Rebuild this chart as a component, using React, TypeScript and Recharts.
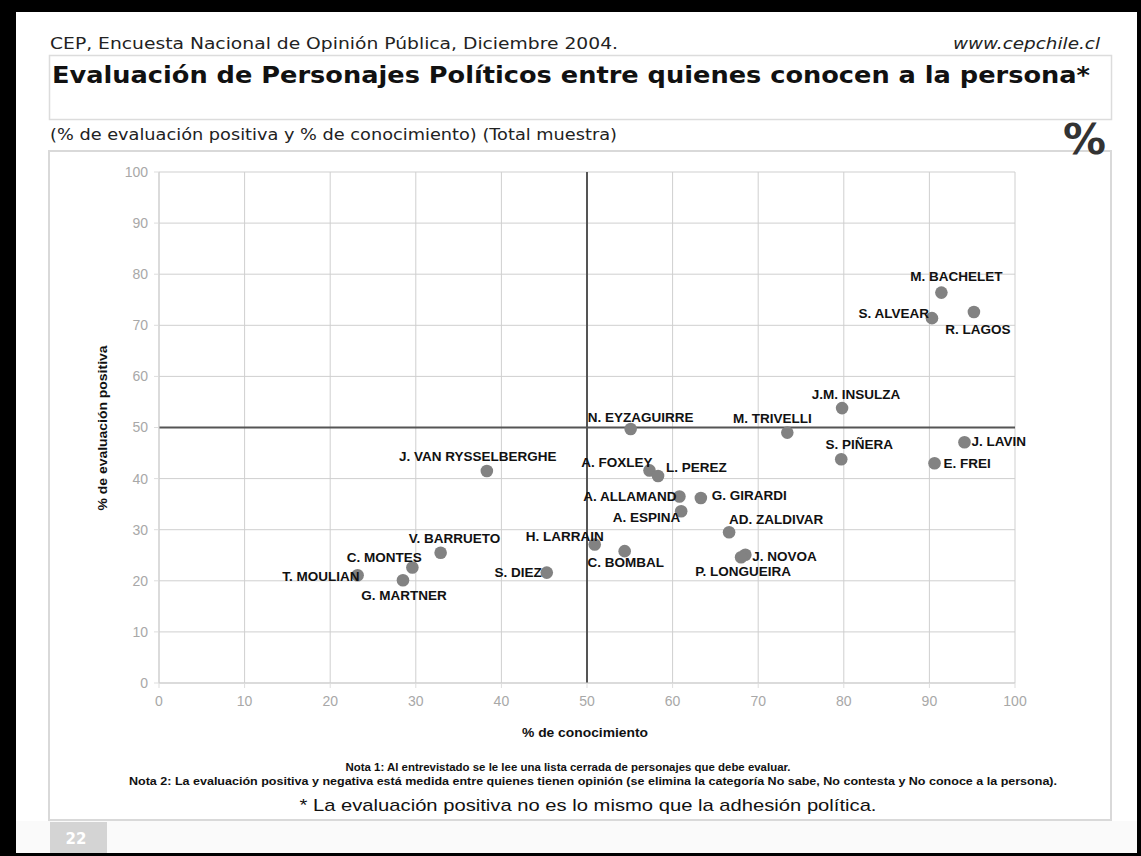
import {
  CartesianGrid,
  ReferenceLine,
  Scatter,
  ScatterChart,
  XAxis,
  YAxis,
} from "recharts";

// personajes evaluados
const names = [
  "M. BACHELET",
  "R. LAGOS",
  "S. ALVEAR",
  "J.M. INSULZA",
  "N. EYZAGUIRRE",
  "M. TRIVELLI",
  "J. LAVIN",
  "S. PIÑERA",
  "E. FREI",
  "J. VAN RYSSELBERGHE",
  "A. FOXLEY",
  "L. PEREZ",
  "A. ALLAMAND",
  "G. GIRARDI",
  "A. ESPINA",
  "AD. ZALDIVAR",
  "H. LARRAIN",
  "C. BOMBAL",
  "J. NOVOA",
  "P. LONGUEIRA",
  "V. BARRUETO",
  "C. MONTES",
  "T. MOULIAN",
  "G. MARTNER",
  "S. DIEZ",
];

// % de conocimiento
const conocimiento = [
  91.4, 95.2, 90.3, 79.8, 55.1, 73.4, 94.1, 79.7, 90.6, 38.3, 57.3, 58.3, 60.8,
  63.3, 61.0, 66.6, 50.9, 54.4, 68.5, 68.0, 32.9, 29.6, 23.2, 28.5, 45.3,
];

// % de evaluación positiva
const evaluacion = [
  76.4, 72.6, 71.4, 53.8, 49.7, 49.0, 47.1, 43.8, 43.0, 41.5, 41.6, 40.5, 36.5,
  36.2, 33.6, 29.5, 27.1, 25.8, 25.1, 24.6, 25.5, 22.6, 21.1, 20.1, 21.6,
];

const ticks = [0, 10, 20, 30, 40, 50, 60, 70, 80, 90, 100];

const data = names.map((name, i) => ({
  name,
  x: conocimiento[i],
  y: evaluacion[i],
}));

// label placement: [dx, baseline dy, anchor]
const labelPos: Record<string, [number, number, "start" | "middle" | "end"]> = {
  "M. BACHELET": [15, -12, "middle"],
  "R. LAGOS": [4, 22, "middle"],
  "S. ALVEAR": [-3, 0, "end"],
  "J.M. INSULZA": [14, -9, "middle"],
  "N. EYZAGUIRRE": [10, -7, "middle"],
  "M. TRIVELLI": [-15, -10, "middle"],
  "J. LAVIN": [7, 4, "start"],
  "S. PIÑERA": [18, -10, "middle"],
  "E. FREI": [9, 5, "start"],
  "J. VAN RYSSELBERGHE": [-9, -10, "middle"],
  "A. FOXLEY": [3, -3, "end"],
  "L. PEREZ": [8, -4, "start"],
  "A. ALLAMAND": [-3, 5, "end"],
  "G. GIRARDI": [11, 2, "start"],
  "A. ESPINA": [-1, 11, "end"],
  "AD. ZALDIVAR": [0, -8, "start"],
  "H. LARRAIN": [9, -4, "end"],
  "C. BOMBAL": [1, 16, "middle"],
  "J. NOVOA": [7, 6, "start"],
  "P. LONGUEIRA": [2, 19, "middle"],
  "V. BARRUETO": [14, -10, "middle"],
  "C. MONTES": [-28, -6, "middle"],
  "T. MOULIAN": [2, 6, "end"],
  "G. MARTNER": [1, 20, "middle"],
  "S. DIEZ": [-5, 4, "end"],
};

const dot = (props: any) => (
  <circle cx={props.cx} cy={props.cy} r={6.3} fill="#828282" />
);

const nameLabel = (props: any) => {
  const [dx, dy, anchor] = labelPos[props.payload.name] || [8, 4, "start"];
  return (
    <text
      x={props.cx + dx}
      y={props.cy + dy}
      textAnchor={anchor}
      fontFamily="'Liberation Sans', Arial, sans-serif"
      fontWeight="bold"
      fontSize={13.5}
      fill="#111"
    >
      {props.payload.name}
    </text>
  );
};

const dejavu = "'DejaVu Sans', sans-serif";
const sans = "'Liberation Sans', Arial, sans-serif";

export default function App() {
  return (
    <div
      style={{
        position: "absolute",
        left: 0,
        top: 0,
        width: 1141,
        height: 856,
        background: "#000",
      }}
    >
      <svg width={1141} height={856} style={{ position: "absolute", left: 0, top: 0 }}>
        <rect x={16} y={12} width={1121} height={841} fill="#fff" />
        <rect x={16} y={821} width={1121} height={32} fill="#fafafa" />

        {/* header */}
        <text x={50} y={49} fontFamily={dejavu} fontSize={16.5} fill="#222" textLength={568} lengthAdjust="spacingAndGlyphs">
          CEP, Encuesta Nacional de Opinión Pública, Diciembre 2004.
        </text>
        <text x={953} y={49} fontFamily={dejavu} fontSize={16.5} fontStyle="italic" fill="#222" textLength={147} lengthAdjust="spacingAndGlyphs">
          www.cepchile.cl
        </text>

        <rect x={49.5} y={55.5} width={1062} height={64} fill="#fff" stroke="#dcdcdc" strokeWidth={1.5} />
        <text x={52} y={83} fontFamily={dejavu} fontSize={23} fontWeight="bold" fill="#111" textLength={1038} lengthAdjust="spacingAndGlyphs">
          Evaluación de Personajes Políticos entre quienes conocen a la persona*
        </text>

        <text x={50} y={140} fontFamily={dejavu} fontSize={15} fill="#222" textLength={567} lengthAdjust="spacingAndGlyphs">
          (% de evaluación positiva y % de conocimiento) (Total muestra)
        </text>

        {/* panel */}
        <rect x={49} y={151} width={1062} height={669} fill="#fff" stroke="#d9d9d9" strokeWidth={2} />

        <text x={1106} y={154} fontFamily={dejavu} fontSize={42} fontWeight="bold" textAnchor="end" fill="#333" textLength={43} lengthAdjust="spacingAndGlyphs">
          %
        </text>

        {/* axis titles */}
        <text x={585} y={737} textAnchor="middle" fontFamily={sans} fontWeight="bold" fontSize={12.5} fill="#111" textLength={126} lengthAdjust="spacingAndGlyphs">
          % de conocimiento
        </text>
        <text
          x={0}
          y={0}
          transform="translate(107 428) rotate(-90)"
          textAnchor="middle"
          fontFamily={sans}
          fontWeight="bold"
          fontSize={12.5}
          fill="#111"
          textLength={165}
          lengthAdjust="spacingAndGlyphs"
        >
          % de evaluación positiva
        </text>

        {/* notas */}
        <text x={568} y={771} textAnchor="middle" fontFamily={sans} fontWeight="bold" fontSize={11} fill="#111" textLength={445} lengthAdjust="spacingAndGlyphs">
          Nota 1: Al entrevistado se le lee una lista cerrada de personajes que debe evaluar.
        </text>
        <text x={593} y={785} textAnchor="middle" fontFamily={sans} fontWeight="bold" fontSize={11} fill="#111" textLength={928} lengthAdjust="spacingAndGlyphs">
          Nota 2: La evaluación positiva y negativa está medida entre quienes tienen opinión (se elimina la categoría No sabe, No contesta y No conoce a la persona).
        </text>
        <text x={588} y={811} textAnchor="middle" fontFamily={sans} fontSize={17} fill="#111" textLength={577} lengthAdjust="spacingAndGlyphs">
          * La evaluación positiva no es lo mismo que la adhesión política.
        </text>

        {/* page tab */}
        <rect x={50} y={822} width={57} height={31} fill="#d4d4d4" />
        <text x={76} y={844} textAnchor="middle" fontFamily={dejavu} fontWeight="bold" fontSize={15} fill="#fff">
          22
        </text>
      </svg>

      <div style={{ position: "absolute", left: 49, top: 151 }}>
        <ScatterChart
          width={1063}
          height={670}
          margin={{ top: 21, right: 97, bottom: 108, left: 50 }}
        >
          <CartesianGrid stroke="#cfcfcf" strokeWidth={1} />
          <XAxis
            type="number"
            dataKey="x"
            domain={[0, 100]}
            ticks={ticks}
            height={30}
            axisLine={{ stroke: "#cfcfcf" }}
            tickLine={{ stroke: "#dddddd" }}
            tickSize={5}
            tickMargin={8}
            tick={{ fill: "#a8a8a8", fontSize: 14, fontFamily: sans }}
          />
          <YAxis
            type="number"
            dataKey="y"
            domain={[0, 100]}
            ticks={ticks}
            width={60}
            axisLine={{ stroke: "#cfcfcf" }}
            tickLine={{ stroke: "#dddddd" }}
            tickSize={5}
            tickMargin={6}
            tick={{ fill: "#a8a8a8", fontSize: 14, fontFamily: sans }}
          />
          <ReferenceLine x={50} stroke="#555" strokeWidth={2} />
          <ReferenceLine y={50} stroke="#555" strokeWidth={2} />
          <Scatter data={data} shape={dot} isAnimationActive={false} />
          <Scatter data={data} shape={nameLabel} isAnimationActive={false} />
        </ScatterChart>
      </div>
    </div>
  );
}
